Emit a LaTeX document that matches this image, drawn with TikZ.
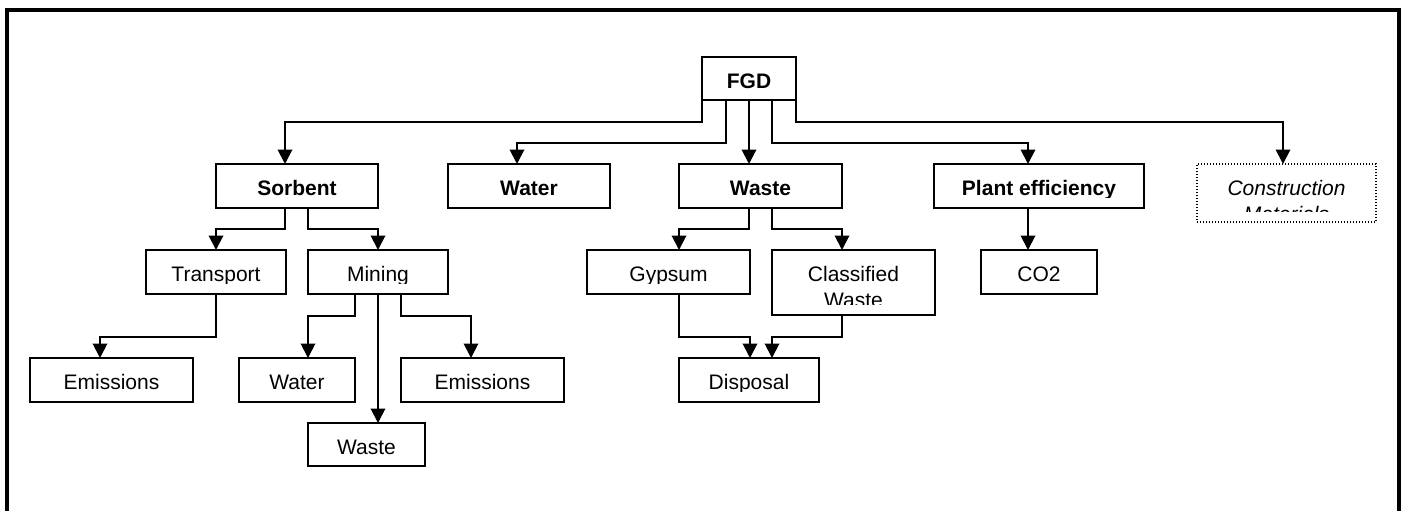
\documentclass[tikz,border=0pt]{standalone}
\usepackage{fontspec}
\setmainfont{Liberation Sans}
\usetikzlibrary{arrows.meta}
\tikzset{
  boxst/.style={draw, line width=2pt, inner sep=0pt, outer sep=0pt, fill=white},
  dotbox/.style={draw, line width=1.3pt, dash pattern=on 1.3pt off 1.7pt, inner sep=0pt, outer sep=0pt},
  txt/.style={anchor=base, inner sep=0pt},
  arr/.style={line width=2pt, -{Triangle[length=14.5pt,width=14.5pt]}},
  framest/.style={line width=4pt}
}
\newcommand\mybox[9]{%
  \node[#6, anchor=north west, minimum width=#4pt, minimum height=#5pt] (#1) at (#2,#3) {};
  \begin{scope}
    \clip ([xshift=1pt,yshift=-1pt]#1.north west) rectangle ([xshift=-1pt,yshift=11pt]#1.south east);
    \node[txt, font={\fontsize{21}{24}\selectfont#7}] (#1-t1) at ([yshift=-31.5pt]#1.north) {#8};
    \if\relax\detokenize{#9}\relax\else
    \node[txt, font={\fontsize{21}{24}\selectfont#7}] (#1-t2) at ([yshift=-57pt]#1.north) {#9};
    \fi
  \end{scope}}
\begin{document}
\begin{tikzpicture}[x=1pt, y=-1pt]
\useasboundingbox (0,0) rectangle (1405,511);
\fill[white] (0,0) rectangle (1405,511);
% frame
\coordinate (fbl) at (6.5,515);
\coordinate (ftl) at (6.5,10);
\coordinate (ftr) at (1398.5,10);
\coordinate (fbr) at (1398.5,515);
\draw[framest] (fbl) -- (ftl) -- (ftr) -- (fbr);
% boxes
\mybox{fgd}{702}{57}{94}{43}{boxst}{\bfseries}{FGD}{}
\mybox{sorb}{216}{164}{162}{44}{boxst}{\bfseries}{Sorbent}{}
\mybox{water}{448}{164}{162}{44}{boxst}{\bfseries}{Water}{}
\mybox{waste}{679}{164}{163}{44}{boxst}{\bfseries}{Waste}{}
\mybox{plant}{934}{164}{210}{44}{boxst}{\bfseries}{Plant efficiency}{}
\mybox{cm}{1197}{164}{179}{58}{dotbox}{\itshape}{Construction}{Materials}
\mybox{trans}{146}{250}{140}{44}{boxst}{}{Transport}{}
\mybox{mining}{308}{250}{140}{44}{boxst}{}{Mining}{}
\mybox{gyp}{587}{250}{163}{44}{boxst}{}{Gypsum}{}
\mybox{cw}{772}{250}{163}{65}{boxst}{}{Classified}{Waste}
\mybox{co2}{981}{250}{116}{44}{boxst}{}{CO2}{}
\mybox{em1}{30}{358}{163}{44}{boxst}{}{Emissions}{}
\mybox{wat2}{239}{358}{116}{44}{boxst}{}{Water}{}
\mybox{em2}{401}{358}{163}{44}{boxst}{}{Emissions}{}
\mybox{disp}{679}{358}{140}{44}{boxst}{}{Disposal}{}
\mybox{waste2}{308}{423}{117}{43}{boxst}{}{Waste}{}
% connectors from FGD
\draw[arr] (fgd.south west) -- ++(0,22) -| ([xshift=-12pt]sorb.north);
\draw[arr] ([xshift=-23pt]fgd.south) -- ++(0,43) -| ([xshift=-12pt]water.north);
\draw[arr] (fgd.south) -- (fgd.south |- waste.north);
\draw[arr] ([xshift=23pt]fgd.south) -- ++(0,43) -| ([xshift=-11pt]plant.north);
\draw[arr] (fgd.south east) -- ++(0,22) -| ([xshift=-3.5pt]cm.north);
% second level
\draw[arr] ([xshift=-12pt]sorb.south) -- ++(0,21) -| (trans.north);
\draw[arr] ([xshift=11pt]sorb.south) -- ++(0,21) -| (mining.north);
\draw[arr] ([xshift=-11.5pt]waste.south) -- ++(0,21) -| ([xshift=10.5pt]gyp.north);
\draw[arr] ([xshift=11.5pt]waste.south) -- ++(0,21) -| ([xshift=-11.5pt]cw.north);
\draw[arr] ([xshift=-11pt]plant.south) -- ([xshift=-11pt]co2.north);
% third level
\draw[arr] (trans.south) -- ++(0,43) -| ([xshift=-11.5pt]em1.north);
\draw[arr] ([xshift=-23pt]mining.south) -- ++(0,22) -| ([xshift=11pt]wat2.north);
\draw[arr] (mining.south) -- (mining.south |- waste2.north);
\draw[arr] ([xshift=23pt]mining.south) -- ++(0,22) -| ([xshift=-11.5pt]em2.north);
\draw[arr] ([xshift=10.5pt]gyp.south) -- ++(0,43) -| ([xshift=1pt]disp.north);
\draw[arr] ([xshift=-11.5pt]cw.south) -- ++(0,22) -| ([xshift=23pt]disp.north);
\end{tikzpicture}
\end{document}
